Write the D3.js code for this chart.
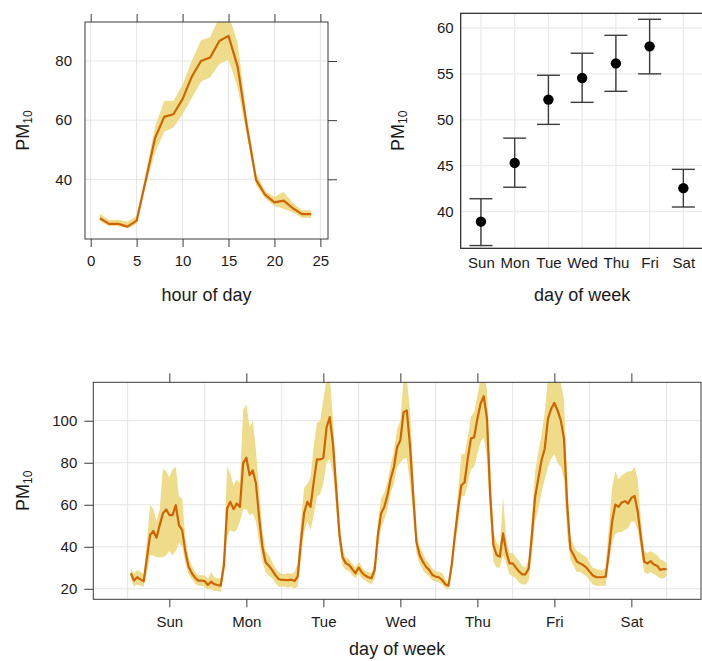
<!DOCTYPE html>
<html>
<head>
<meta charset="utf-8">
<script src="https://cdn.jsdelivr.net/npm/d3@7"></script>
<style>
  html, body { margin: 0; padding: 0; background: #ffffff; }
  svg { display: block; }
  text { font-family: "Liberation Sans", Arial, Helvetica, sans-serif; fill: #1a1a1a; }
</style>
</head>
<body>
<svg id="chart" width="702" height="661"></svg>
<script>
// ---------------- DATA ----------------
const hours = d3.range(1, 25);
const hourMean  = [26.8, 24.9, 24.9, 24.0, 26.0, 39.8, 53.9, 61.1, 62.0, 67.1, 74.7, 80.0, 81.2, 86.8, 88.5, 78.0, 57.8, 39.8, 34.7, 32.2, 32.8, 30.2, 28.2, 28.2];
const hourLower = [25.9, 24.1, 24.2, 23.4, 25.0, 38.0, 49.0, 56.1, 57.5, 62.0, 67.5, 73.0, 74.5, 79.0, 80.5, 71.0, 55.0, 38.0, 33.5, 31.0, 30.0, 28.8, 27.0, 27.0];
const hourUpper = [28.3, 26.2, 26.3, 25.6, 27.6, 42.0, 57.8, 66.5, 66.5, 72.0, 80.0, 87.0, 88.0, 95.0, 96.0, 85.9, 61.0, 42.0, 36.0, 34.0, 35.8, 32.0, 29.5, 29.5];
const hourTicks = [0, 5, 10, 15, 20, 25];
const hourYTicks = [40, 60, 80];

const days = ["Sun", "Mon", "Tue", "Wed", "Thu", "Fri", "Sat"];
const dayMean  = [38.9, 45.3, 52.2, 54.55, 56.15, 58.0, 42.55];
const dayLower = [36.3, 42.65, 49.5, 51.9, 53.1, 55.0, 40.5];
const dayUpper = [41.4, 48.0, 54.85, 57.25, 59.2, 60.95, 44.6];
const dayYTicks = [40, 45, 50, 55, 60];

const weekHours = d3.range(1, 169);
const weekMean = [
  27.4, 23.9, 25.5, 24.5, 23.6, 34.5, 45.6, 47.5, 44.3, 50.3, 55.9, 57.8, 55.1, 55.1, 59.8, 50.3, 47.9, 37.7, 30.5, 27.4, 25.3, 23.9, 23.9, 23.7,
  21.8, 23.4, 22.2, 21.8, 21.5, 31.0, 58.2, 61.4, 57.9, 60.6, 59.0, 79.7, 82.4, 74.1, 76.4, 70.1, 53.5, 40.0, 32.6, 31.0, 29.0, 26.6, 24.7, 24.2,
  24.2, 24.1, 24.4, 23.7, 25.8, 42.4, 56.0, 61.4, 59.0, 70.9, 81.6, 81.6, 82.3, 96.8, 101.7, 89.0, 67.7, 46.0, 35.0, 32.1, 31.3, 29.4, 27.4, 30.1,
  27.8, 26.3, 25.5, 25.0, 29.0, 45.6, 55.9, 59.0, 64.6, 72.5, 78.0, 87.5, 90.7, 104.1, 104.9, 88.3, 64.6, 42.4, 36.1, 32.9, 30.5, 28.9, 26.6, 25.8,
  25.5, 24.2, 22.2, 21.5, 31.3, 45.6, 58.2, 69.3, 70.6, 82.0, 91.5, 92.2, 100.9, 108.1, 111.7, 100.9, 64.6, 40.8, 36.1, 35.3, 46.4, 37.7, 32.1, 32.1,
  30.1, 28.2, 26.9, 26.9, 29.7, 45.6, 63.8, 72.5, 81.2, 86.7, 100.9, 105.7, 108.5, 104.9, 100.2, 91.5, 59.8, 38.9, 36.1, 33.0, 32.1, 31.3, 30.1, 28.2,
  26.3, 25.6, 25.5, 25.5, 25.8, 37.7, 52.0, 60.1, 59.0, 61.1, 61.7, 60.6, 63.3, 64.2, 56.6, 44.0, 32.9, 32.1, 33.2, 31.6, 31.0, 29.0, 29.4, 29.3
];
const weekLower = [
  25, 21, 22, 21.5, 21, 28, 36, 36, 35, 35, 35, 36, 38, 36, 38, 42, 40, 32, 27, 24.5, 22.5, 21.5, 21.5, 21,
  19.5, 20, 19, 19, 18.5, 27, 45, 48, 47, 48, 52, 58, 58, 55, 56, 52, 42, 33, 28, 26.5, 25, 23, 21, 21,
  21, 20.5, 21, 20, 21, 34, 47, 52, 48, 55, 64, 65, 70, 80, 82, 75, 58, 40, 31, 29, 28.5, 26.5, 25, 27,
  25, 24, 23, 22, 25, 39, 49, 53, 58, 66, 70, 78, 80, 82, 82, 70, 55, 37, 32, 29, 27, 26, 24, 23.5,
  23, 22, 20.5, 19.5, 28, 41, 50, 64, 64, 70, 77, 78, 84, 90, 92, 82, 55, 33, 30, 30, 36, 32, 27, 26,
  25, 23, 22, 22, 24, 37, 52, 58, 66, 72, 78, 82, 84, 80, 78, 72, 46, 34, 31, 28, 28, 27, 26, 24,
  22, 21.5, 21.5, 21.5, 21.5, 32, 42, 46, 47, 47, 48, 49, 52, 52, 48, 38, 28, 27, 28, 27, 26, 25, 25, 26
];
const weekUpper = [
  30, 27, 29, 28, 27, 42, 60, 58, 52, 58, 77, 76, 73, 77, 78, 64, 63, 44, 35, 31, 28, 26.5, 26.5, 26.5,
  24.5, 28, 25.5, 25, 25, 38, 78, 75, 69, 72, 70, 105, 108, 97, 100, 86, 66, 48, 38, 36, 33, 30, 28, 27,
  27, 27.5, 27, 28, 32, 52, 68, 70, 73, 88, 99, 100, 110, 120, 122, 100, 76, 53, 38, 35, 34, 32, 30, 33,
  30.5, 28.5, 28, 27.5, 33, 52, 63, 66, 71, 79, 86, 96, 100, 120, 120, 105, 75, 47, 40, 37, 34, 32, 29.5, 28.5,
  28, 27.5, 24.5, 23, 35, 50, 66, 84, 84, 92, 102, 104, 112, 120, 122, 115, 78, 47, 42, 40, 64, 44, 37, 37,
  35, 33, 31, 30, 34, 54, 76, 85, 93, 104, 120, 122, 122, 120, 118, 110, 72, 44, 41, 38, 37, 36, 35, 32,
  30, 29.5, 29, 29, 30, 50, 68, 76, 72, 74, 75, 76, 76, 78, 72, 52, 38, 37, 38, 37, 36, 34, 33.5, 32
];
const weekTicks = [13, 37, 61, 85, 109, 133, 157];
const weekGrid = [0, 24, 48, 72, 96, 120, 144, 168];
const weekYTicks = [20, 40, 60, 80, 100];

// ---------------- STYLE ----------------
const lineCol = "#d06400";
const bandCol = "#eedc8b";
const gridCol = "#e4e4e4";
const boxCol = "#3a3a3a";
const tickFont = 15;
const titleFont = 18;

const svg = d3.select("#chart");

function pmLabel(g, x, y) {
  const t = g.append("text")
    .attr("transform", `translate(${x},${y}) rotate(-90)`)
    .attr("text-anchor", "middle")
    .attr("font-size", titleFont);
  t.append("tspan").text("PM");
  t.append("tspan").attr("font-size", 12).attr("dy", 3).text("10");
}

// ---------------- PANEL A: hour of day ----------------
(function () {
  const L = 85, R = 328, T = 22, B = 239;
  const x = d3.scaleLinear().domain([-0.62, 25.83]).range([L, R]);
  const y = d3.scaleLinear().domain([19.8, 93.2]).range([B, T]);
  const g = svg.append("g");
  g.append("clipPath").attr("id", "clipA").append("rect")
    .attr("x", L).attr("y", T).attr("width", R - L).attr("height", B - T);
  g.selectAll(".vg").data(hourTicks).join("line")
    .attr("x1", d => x(d)).attr("x2", d => x(d)).attr("y1", T).attr("y2", B)
    .attr("stroke", gridCol).attr("stroke-width", 1);
  g.selectAll(".hg").data(hourYTicks).join("line")
    .attr("y1", d => y(d)).attr("y2", d => y(d)).attr("x1", L).attr("x2", R)
    .attr("stroke", gridCol).attr("stroke-width", 1);
  const pg = g.append("g").attr("clip-path", "url(#clipA)");
  const area = d3.area().x((d, i) => x(hours[i])).y0((d, i) => y(hourLower[i])).y1((d, i) => y(hourUpper[i]));
  pg.append("path").datum(hours).attr("d", area).attr("fill", bandCol);
  const line = d3.line().x((d, i) => x(hours[i])).y((d, i) => y(hourMean[i]));
  pg.append("path").datum(hours).attr("d", line).attr("fill", "none")
    .attr("stroke", lineCol).attr("stroke-width", 2.2).attr("stroke-linejoin", "round");
  const xb = g.append("g").attr("transform", `translate(0,${B})`)
    .call(d3.axisBottom(x).tickValues(hourTicks).tickSize(8).tickPadding(8));
  const xt = g.append("g").attr("transform", `translate(0,${T})`)
    .call(d3.axisTop(x).tickValues(hourTicks).tickSize(8).tickFormat(""));
  const yl = g.append("g").attr("transform", `translate(${L},0)`)
    .call(d3.axisLeft(y).tickValues(hourYTicks).tickSize(0).tickPadding(13));
  const yr = g.append("g").attr("transform", `translate(${R},0)`)
    .call(d3.axisRight(y).tickValues(hourYTicks).tickSize(9).tickFormat(""));
  [xb, xt, yl, yr].forEach(a => {
    a.select(".domain").remove();
    a.selectAll("line").attr("stroke", boxCol);
    a.selectAll("text").attr("font-size", tickFont).attr("fill", "#1a1a1a")
      .attr("font-family", "Liberation Sans, Arial, sans-serif");
  });
  g.append("rect").attr("x", L).attr("y", T).attr("width", R - L).attr("height", B - T)
    .attr("fill", "none").attr("stroke", boxCol).attr("stroke-width", 1);
  pmLabel(g, 29, (T + B) / 2);
  g.append("text").attr("x", (L + R) / 2).attr("y", 301).attr("text-anchor", "middle")
    .attr("font-size", titleFont).text("hour of day");
})();

// ---------------- PANEL B: day of week ----------------
(function () {
  const L = 460.7, R = 703.6, T = 13.3, B = 248.3;
  const x = d3.scaleLinear().domain([-0.6, 6.6]).range([L, R]);
  const y = d3.scaleLinear().domain([36.0, 61.6]).range([B, T]);
  const g = svg.append("g");
  g.selectAll(".vg").data(days).join("line")
    .attr("x1", (d, i) => x(i)).attr("x2", (d, i) => x(i)).attr("y1", T).attr("y2", B)
    .attr("stroke", "#ebebeb").attr("stroke-width", 1.3);
  g.selectAll(".hg").data(dayYTicks).join("line")
    .attr("y1", d => y(d)).attr("y2", d => y(d)).attr("x1", L).attr("x2", R)
    .attr("stroke", "#ebebeb").attr("stroke-width", 1.3);
  const eb = g.selectAll(".eb").data(days).join("g");
  eb.append("line").attr("x1", (d, i) => x(i)).attr("x2", (d, i) => x(i))
    .attr("y1", (d, i) => y(dayLower[i])).attr("y2", (d, i) => y(dayUpper[i]))
    .attr("stroke", "#3c3c3c").attr("stroke-width", 1.4);
  eb.append("line").attr("x1", (d, i) => x(i) - 11.5).attr("x2", (d, i) => x(i) + 11.5)
    .attr("y1", (d, i) => y(dayLower[i])).attr("y2", (d, i) => y(dayLower[i]))
    .attr("stroke", "#3c3c3c").attr("stroke-width", 1.4);
  eb.append("line").attr("x1", (d, i) => x(i) - 11.5).attr("x2", (d, i) => x(i) + 11.5)
    .attr("y1", (d, i) => y(dayUpper[i])).attr("y2", (d, i) => y(dayUpper[i]))
    .attr("stroke", "#3c3c3c").attr("stroke-width", 1.4);
  eb.append("circle").attr("cx", (d, i) => x(i)).attr("cy", (d, i) => y(dayMean[i]))
    .attr("r", 5.2).attr("fill", "#000");
  const yl = g.append("g").attr("transform", `translate(${L},0)`)
    .call(d3.axisLeft(y).tickValues(dayYTicks).tickSize(0).tickPadding(7));
  const xb = g.append("g").attr("transform", `translate(0,${B})`)
    .call(d3.axisBottom(x).tickValues(d3.range(7)).tickFormat(i => days[i]).tickSize(0).tickPadding(9));
  [yl, xb].forEach(a => {
    a.select(".domain").remove();
    a.selectAll("text").attr("font-size", tickFont).attr("fill", "#1a1a1a")
      .attr("font-family", "Liberation Sans, Arial, sans-serif");
  });
  g.append("rect").attr("x", L).attr("y", T).attr("width", R - L).attr("height", B - T)
    .attr("fill", "none").attr("stroke", "#222").attr("stroke-width", 1.2);
  pmLabel(g, 404, (T + B) / 2);
  g.append("text").attr("x", (L + R) / 2).attr("y", 301).attr("text-anchor", "middle")
    .attr("font-size", titleFont).text("day of week");
})();

// ---------------- PANEL C: week ----------------
(function () {
  const L = 93.3, R = 701, T = 382.3, B = 599.3;
  const x = d3.scaleLinear().domain([-10.7, 178.7]).range([L, R]);
  const y = d3.scaleLinear().domain([15, 118.3]).range([B, T]);
  const g = svg.append("g");
  g.append("clipPath").attr("id", "clipC").append("rect")
    .attr("x", L).attr("y", T).attr("width", R - L).attr("height", B - T);
  g.selectAll(".vg").data(weekGrid).join("line")
    .attr("x1", d => x(d)).attr("x2", d => x(d)).attr("y1", T).attr("y2", B)
    .attr("stroke", gridCol).attr("stroke-width", 1);
  g.selectAll(".hg").data(weekYTicks).join("line")
    .attr("y1", d => y(d)).attr("y2", d => y(d)).attr("x1", L).attr("x2", R)
    .attr("stroke", gridCol).attr("stroke-width", 1);
  const pg = g.append("g").attr("clip-path", "url(#clipC)");
  const area = d3.area().x((d, i) => x(weekHours[i])).y0((d, i) => y(weekLower[i])).y1((d, i) => y(weekUpper[i]));
  pg.append("path").datum(weekHours).attr("d", area).attr("fill", bandCol);
  const line = d3.line().x((d, i) => x(weekHours[i])).y((d, i) => y(weekMean[i]));
  pg.append("path").datum(weekHours).attr("d", line).attr("fill", "none")
    .attr("stroke", lineCol).attr("stroke-width", 2.2).attr("stroke-linejoin", "round");
  const xb = g.append("g").attr("transform", `translate(0,${B})`)
    .call(d3.axisBottom(x).tickValues(weekTicks).tickFormat((d, i) => days[i]).tickSize(8).tickPadding(9));
  const xt = g.append("g").attr("transform", `translate(0,${T})`)
    .call(d3.axisTop(x).tickValues(weekTicks).tickSize(9).tickFormat(""));
  const yl = g.append("g").attr("transform", `translate(${L},0)`)
    .call(d3.axisLeft(y).tickValues(weekYTicks).tickSize(9).tickPadding(7));
  [xb, xt, yl].forEach(a => {
    a.select(".domain").remove();
    a.selectAll("line").attr("stroke", boxCol);
    a.selectAll("text").attr("font-size", tickFont).attr("fill", "#1a1a1a")
      .attr("font-family", "Liberation Sans, Arial, sans-serif");
  });
  g.append("rect").attr("x", L).attr("y", T).attr("width", R - L).attr("height", B - T)
    .attr("fill", "none").attr("stroke", boxCol).attr("stroke-width", 1);
  pmLabel(g, 29, (T + B) / 2);
  g.append("text").attr("x", (L + R) / 2).attr("y", 655).attr("text-anchor", "middle")
    .attr("font-size", titleFont).text("day of week");
})();
</script>
</body>
</html>
